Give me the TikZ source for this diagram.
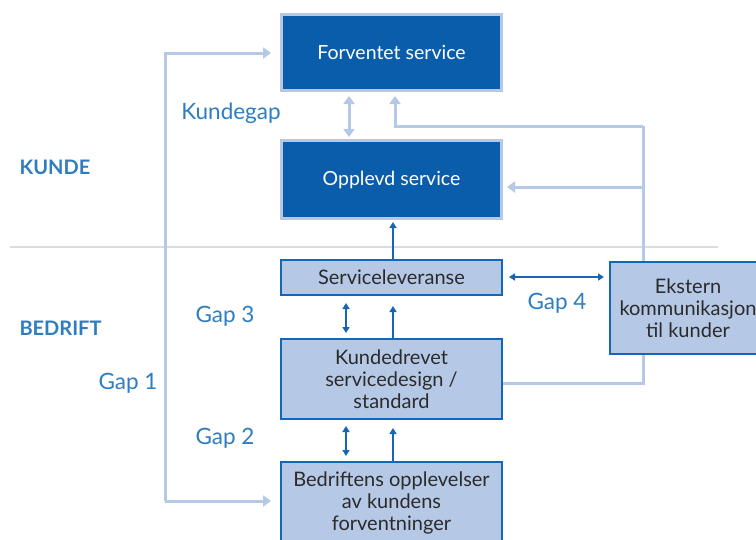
\documentclass[tikz,border=0pt]{standalone}
\usepackage{fontspec}
\setmainfont{Lato}
\usetikzlibrary{arrows.meta}
\definecolor{dkblue}{HTML}{0A5DAA}
\definecolor{bdblue}{HTML}{1466B8}
\definecolor{ltblue}{HTML}{B5C8E5}
\definecolor{lblblue}{HTML}{2E7DC0}
\definecolor{txtdark}{HTML}{2B2B2B}
\definecolor{sepgray}{HTML}{D8DCE3}
\tikzset{
  x=1pt, y=-1pt,
  darkbox/.style={draw=ltblue, line width=3pt, fill=dkblue, text=white, font=\fontsize{19.5}{22}\selectfont, inner sep=0pt},
  lightbox/.style={draw=bdblue, line width=1.8pt, fill=ltblue, text=txtdark, font=\fontsize{20}{22}\selectfont, align=center, inner sep=0pt},
  lbl/.style={text=lblblue, font=\fontsize{22.5}{24}\selectfont},
  sect/.style={text=lblblue, font=\bfseries\fontsize{20}{22}\selectfont, anchor=west},
  lline/.style={draw=ltblue, line width=3pt},
  ltip/.style={-{Triangle[width=11pt,length=8pt]}},
  lbtip/.style={{Triangle[width=11pt,length=8pt]}-{Triangle[width=11pt,length=8pt]}},
  dline/.style={draw=bdblue, line width=1.6pt},
  dtip/.style={-{Triangle[width=7pt,length=6pt]}},
  dbtip/.style={{Triangle[width=7pt,length=6pt]}-{Triangle[width=7pt,length=6pt]}},
}
\begin{document}
\begin{tikzpicture}
\useasboundingbox (0,0) rectangle (756,539);
\clip (0,0) rectangle (756,539);
% separator
\draw[sepgray, line width=1.2pt] (10,247) -- (718,247);
% boxes
\node[darkbox, minimum width=220pt, minimum height=76pt] (fe) at (391.5,52.5) {Forventet service};
\node[darkbox, minimum width=220pt, minimum height=78pt] (op) at (391.5,179.5) {Opplevd service};
\node[lightbox, minimum width=221pt, minimum height=35pt] (sl) at (391.5,277.5) {Serviceleveranse};
\node[lightbox, minimum width=221pt, minimum height=80pt] (kd) at (391.5,379) {Kundedrevet\\servicedesign /\\standard};
\node[lightbox, minimum width=221pt, minimum height=100pt, text depth=0pt] (be) at (391.5,512) {};
\node[text=txtdark, font=\fontsize{20}{22}\selectfont, align=center, anchor=north] (betx) at (391.5,468) {Bedriftens opplevelser\\av kundens\\forventninger};
% light connectors (behind Ekstern)
\coordinate (rc) at (643,126);
\draw[lline] (kd.east |- 0,383) -- (643,383) -- (rc);
\draw[lline, ltip] (rc) -- (395,126) -- (395,96);
\draw[lline, ltip] (643,187) -- (507,187);
\node[lightbox, minimum width=156pt, minimum height=92pt] (ek) at (688,308) {Ekstern\\kommunikasjon\\til kunder};
% Gap 1 line
\coordinate (g1t) at (165,53);
\coordinate (g1b) at (165,501);
\draw[lline, ltip] (g1b) -- (g1t) -- (271,53);
\draw[lline, ltip] (g1b) -- (271,501);
% Kundegap double arrow
\draw[lline, lbtip] (349,96) -- (349,137);
% dark arrows
\draw[dline, dtip] (sl.north -| 393,0) -- (393,222);
\draw[dline, dbtip] (346,303) -- (346,333);
\draw[dline, dtip] (kd.north -| 393,0) -- (393,306);
\draw[dline, dbtip] (346,426) -- (346,456);
\draw[dline, dtip] (be.north -| 393,0) -- (393,428);
\draw[dline, dbtip] (509,277) -- (604,277);
% labels
\node[lbl] (kg) at (231,113) {Kundegap};
\node[sect] (ku) at (16,167) {KUNDE};
\node[sect] (bd) at (16,328) {BEDRIFT};
\node[lbl] (g3) at (225,316) {Gap 3};
\node[lbl] (g1) at (128,383) {Gap 1};
\node[lbl] (g2) at (225,438) {Gap 2};
\node[lbl] (g4) at (557,303) {Gap 4};
\end{tikzpicture}
\end{document}
